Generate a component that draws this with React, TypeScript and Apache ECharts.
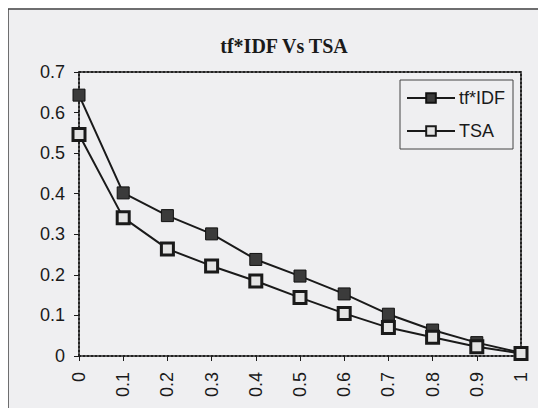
import React, { useEffect, useRef } from "react";
import * as echarts from "echarts";

const thresholds = ["0", "0.1", "0.2", "0.3", "0.4", "0.5", "0.6", "0.7", "0.8", "0.9", "1"];
const tfIdfValues = [0.643, 0.402, 0.346, 0.301, 0.238, 0.197, 0.153, 0.103, 0.064, 0.033, 0.008];
const tsaValues = [0.546, 0.341, 0.264, 0.222, 0.185, 0.144, 0.105, 0.07, 0.046, 0.023, 0.006];
const yTicks = [0, 0.1, 0.2, 0.3, 0.4, 0.5, 0.6, 0.7];

const SANS = "'Liberation Sans', Arial, sans-serif";
const SERIF = "'Liberation Serif', 'Times New Roman', serif";
const INK = "#1a1a1a";

export default function App() {
  const ref = useRef<HTMLDivElement>(null);

  useEffect(() => {
    if (!ref.current) return;
    const chart = echarts.init(ref.current, null, { renderer: "svg" });
    const dotted = { color: "#222", width: 2, type: [2, 2] as number[] };

    chart.setOption({
      animation: false,
      backgroundColor: "#efeff1",
      title: {
        text: "tf*IDF Vs TSA",
        left: 279,
        textAlign: "center",
        top: 31,
        textStyle: { fontFamily: SERIF, fontWeight: "bold", fontSize: 20, color: INK },
      },
      graphic: [
        {
          type: "rect",
          shape: { x: 8, y: 9, width: 560, height: 440 },
          style: { fill: "none", stroke: "#444", lineWidth: 1.5 },
          silent: true,
        },
      ],
      legend: {
        orient: "vertical",
        left: 400,
        top: 80,
        padding: [9, 8, 9, 6],
        borderColor: "#444",
        borderWidth: 1,
        backgroundColor: "#efeff1",
        itemWidth: 48,
        itemHeight: 12,
        itemGap: 15,
        textStyle: { fontFamily: SANS, fontSize: 18, color: INK, padding: [0, 0, 0, -1] },
        data: ["tf*IDF", "TSA"],
      },
      grid: { left: 79, right: 25, top: 72, bottom: 60 },
      xAxis: [
        {
          type: "category",
          data: thresholds,
          boundaryGap: false,
          axisLine: { onZero: false, lineStyle: dotted },
          axisTick: { show: true, length: 5, lineStyle: { color: INK } },
          axisLabel: { rotate: 90, margin: 16, fontFamily: SANS, fontSize: 18, color: INK },
        },
        {
          type: "category",
          data: thresholds,
          boundaryGap: false,
          position: "top",
          axisLine: { onZero: false, lineStyle: dotted },
          axisTick: { show: false },
          axisLabel: { show: false },
        },
      ],
      yAxis: [
        {
          type: "value",
          min: 0,
          max: 0.7,
          interval: 0.1,
          splitLine: { show: false },
          axisLine: { show: true, onZero: false, lineStyle: dotted },
          axisTick: { show: true, length: 5, lineStyle: { color: INK } },
          axisLabel: {
            margin: 14,
            fontFamily: SANS,
            fontSize: 18,
            color: INK,
            formatter: (v: number) => {
              const t = yTicks.find((y) => Math.abs(y - v) < 1e-9);
              return String(t ?? v);
            },
          },
        },
        {
          type: "value",
          min: 0,
          max: 0.7,
          interval: 0.1,
          position: "right",
          splitLine: { show: false },
          axisLine: { show: true, onZero: false, lineStyle: dotted },
          axisTick: { show: false },
          axisLabel: { show: false },
        },
      ],
      series: [
        {
          name: "tf*IDF",
          type: "line",
          data: tfIdfValues,
          symbol: "rect",
          symbolSize: 12,
          z: 3,
          itemStyle: { color: "#3b3b3b", borderColor: "#111", borderWidth: 1 },
          lineStyle: { color: INK, width: 2 },
        },
        {
          name: "TSA",
          type: "line",
          data: tsaValues,
          symbol: "rect",
          symbolSize: 12,
          z: 3,
          itemStyle: { color: "#e4e4e4", borderColor: "#1a1a1a", borderWidth: 3 },
          lineStyle: { color: INK, width: 2 },
        },
      ],
    });

    return () => chart.dispose();
  }, []);

  return <div ref={ref} style={{ width: 546, height: 416, margin: -8 }} />;
}
